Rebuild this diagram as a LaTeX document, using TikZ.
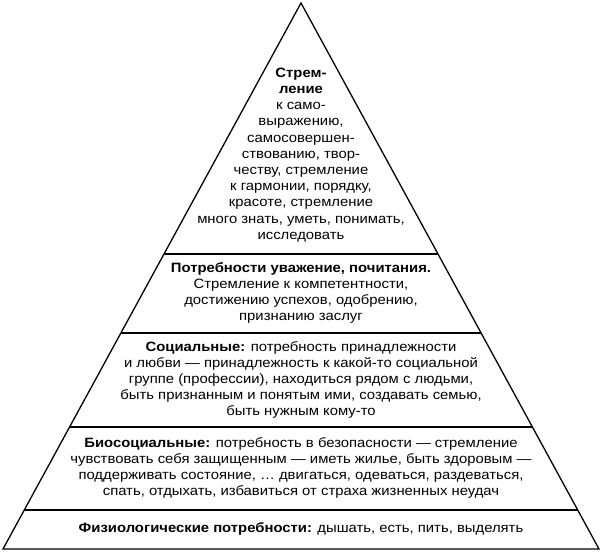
\documentclass[tikz,border=0pt]{standalone}
\usepackage{fontspec}
\setmainfont[FakeStretch=1.1]{Liberation Sans}
\begin{document}
\begin{tikzpicture}[x=1pt,y=-1pt,
  txt/.style={align=center,inner sep=0,font=\fontsize{13.5}{16.2}\selectfont},
  ln/.style={line width=1.3pt}]
\useasboundingbox (0,0) rectangle (602,554);
\coordinate (A) at (301,3);
\coordinate (L) at (3,549);
\coordinate (R) at (599,549);
\draw[ln,line join=miter] (A) -- (L) -- (R) -- cycle;
\foreach \y in {254,333,427,510}{
  \pgfmathsetmacro{\hw}{(\y-3)/546*298}
  \draw[ln] (301-\hw,\y) -- (301+\hw,\y);
}
\node[txt] (t1) at (301,155) {\textbf{Стрем-}\\\textbf{ление}\\к само-\\выражению,\\самосовершен-\\ствованию, твор-\\честву, стремление\\к гармонии, порядку,\\красоте, стремление\\много знать, уметь, понимать,\\исследовать};
\node[txt] (t2) at (301,293) {\textbf{Потребности уважение, почитания.}\\Стремление к компетентности,\\достижению успехов, одобрению,\\признанию заслуг};
\node[txt] (t3) at (301,380) {\textbf{Социальные:} потребность принадлежности\\и любви — принадлежность к какой-то социальной\\группе (профессии), находиться рядом с людьми,\\быть признанным и понятым ими, создавать семью,\\быть нужным кому-то};
\node[txt] (t4) at (301,468) {\textbf{Биосоциальные:} потребность в безопасности — стремление\\чувствовать себя защищенным — иметь жилье, быть здоровым —\\поддерживать состояние, … двигаться, одеваться, раздеваться,\\спать, отдыхать, избавиться от страха жизненных неудач};
\node[txt] (t5) at (301,529) {\textbf{Физиологические потребности:} дышать, есть, пить, выделять};
\end{tikzpicture}
\end{document}
